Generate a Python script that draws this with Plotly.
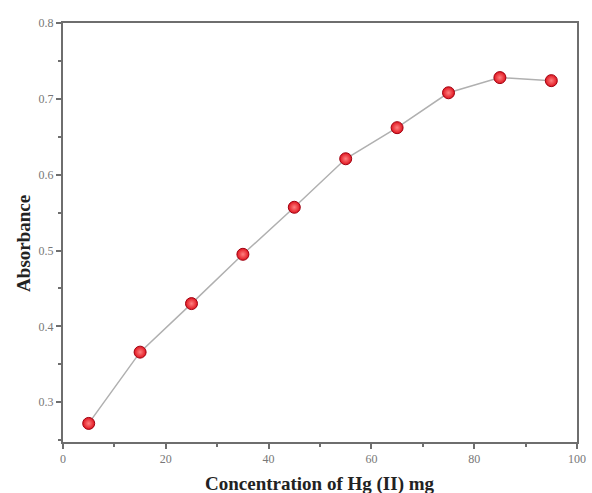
import plotly.graph_objects as go

concentration = [5, 15, 25, 35, 45, 55, 65, 75, 85, 95]
absorbance = [0.272, 0.366, 0.430, 0.495, 0.557, 0.621, 0.662, 0.708, 0.728, 0.724]
x_ticks = [0, 20, 40, 60, 80, 100]
y_ticks = [0.3, 0.4, 0.5, 0.6, 0.7, 0.8]
x_title = "<b>Concentration of Hg (II) mg</b>"
y_title = "<b>Absorbance</b>"

fig = go.Figure()
fig.add_trace(go.Scatter(
    x=concentration, y=absorbance, mode="lines+markers",
    line=dict(color="#b0b0b0", width=1.5),
    marker=dict(size=12, color="#e0141e",
                line=dict(color="#a00010", width=1),
                gradient=dict(type="radial", color="#ff8080")),
    showlegend=False, cliponaxis=False,
))

axis_common = dict(
    showline=True, linecolor="#6e6e6e", linewidth=2, mirror=True,
    showgrid=False, zeroline=False, ticks="outside", ticklen=5,
    tickwidth=1.5, tickcolor="#6e6e6e", automargin=False,
    tickfont=dict(family="Liberation Serif", size=12, color="#777777"),
)

fig.update_xaxes(range=[0, 100], tickvals=x_ticks,
                 minor=dict(ticks="outside", ticklen=3, dtick=10, tickcolor="#6e6e6e"),
                 **axis_common)
fig.update_yaxes(range=[0.2475, 0.8], tickvals=y_ticks, tickformat=".1f",
                 minor=dict(ticks="outside", ticklen=3, dtick=0.05, tickcolor="#6e6e6e"),
                 **axis_common)

fig.add_annotation(text=x_title, xref="paper", yref="paper", x=0.5, y=-0.131,
                   xanchor="center", yanchor="bottom", showarrow=False,
                   font=dict(family="Liberation Serif", size=19, color="#222222"))
fig.add_annotation(text=y_title, xref="paper", yref="paper", x=-0.076, y=0.475,
                   xanchor="center", yanchor="middle", showarrow=False, textangle=-90,
                   font=dict(family="Liberation Serif", size=19, color="#222222"))

fig.update_layout(
    width=592, height=493,
    margin=dict(l=63, r=15, t=23, b=51, autoexpand=False),
    plot_bgcolor="white", paper_bgcolor="white",
)
fig.write_html("out.html", config={"displayModeBar": False},
               post_script="document.body.style.margin='0';")
